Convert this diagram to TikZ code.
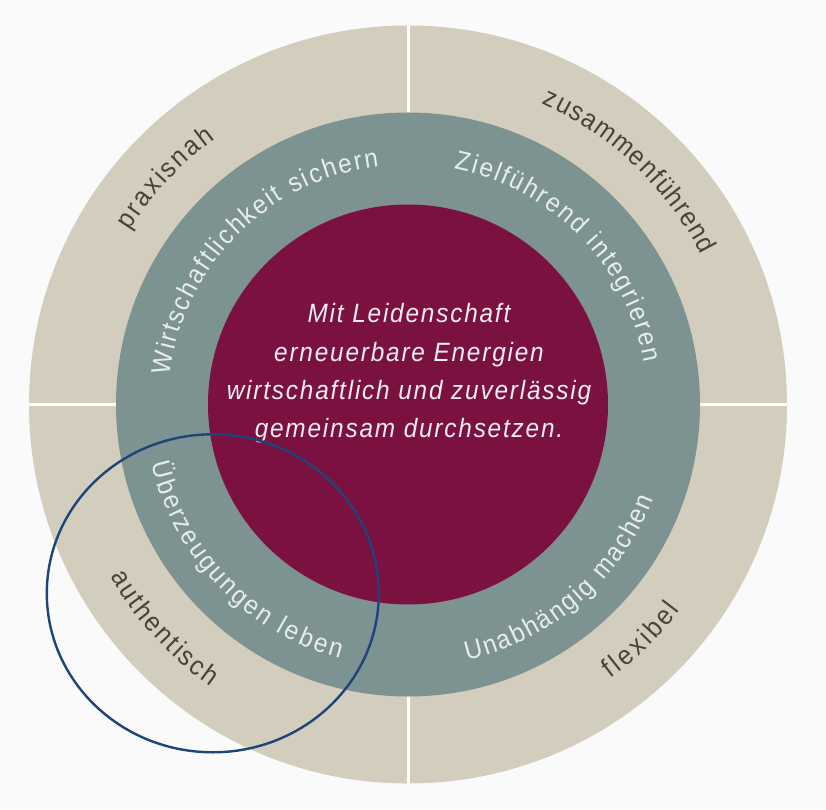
\documentclass[tikz,border=0pt]{standalone}
\usepackage{fontspec}
\setmainfont{Liberation Sans}
\newfontfamily\ringfont[FakeStretch=0.92]{Liberation Sans}
\newfontfamily\centerfont[FakeStretch=0.92,LetterSpace=6.8]{Liberation Sans}
\usetikzlibrary{decorations.text,calc}
\definecolor{bgc}{HTML}{FAFAFA}
\definecolor{beige}{HTML}{D3CDBD}
\definecolor{tealring}{HTML}{7D9392}
\definecolor{crimson}{HTML}{7B1140}
\definecolor{outertxt}{HTML}{4B413A}
\definecolor{midtxt}{HTML}{E8ECEC}
\definecolor{ctxt}{HTML}{F2EEF0}
\definecolor{ringblue}{HTML}{1E4577}
\newcommand\otf{\ringfont\fontsize{27}{30}\selectfont\color{outertxt}}
\newcommand\mtf{\ringfont\fontsize{26.5}{30}\selectfont\color{midtxt}}
\tikzset{
  ringtext/.style={decorate, decoration={text along path, text align={fit to path}, text={#1}}},
  coretext/.style={anchor=base, text=ctxt, inner sep=0pt, font=\centerfont\itshape\fontsize{26.5}{30}\selectfont},
  divider/.style={draw=white, line width=3pt},
}
\begin{document}
\begin{tikzpicture}[x=1pt,y=1pt]
\path[use as bounding box, fill=bgc] (0,0) rectangle (826,809);
\coordinate (C) at (408,404.5);
% outer ring
\fill[beige] (C) circle[radius=379pt];
\draw[divider] ($(C)+(0,-379)$) -- ($(C)+(0,379)$);
\draw[divider] ($(C)+(-379,0)$) -- ($(C)+(379,0)$);
% middle ring
\fill[tealring] (C) circle[radius=292pt];
% core
\fill[crimson] (C) circle[radius=200pt];
% outer texts
\path[ringtext={|\otf|praxisnah}] ($(C)+(148:328pt)$) arc[start angle=148, end angle=126, radius=328pt];
\path[ringtext={|\otf|zusammenführend}] ($(C)+(66:329pt)$) arc[start angle=66, end angle=27, radius=329pt];
\path[ringtext={|\otf|authentisch}] ($(C)+(210:344pt)$) arc[start angle=210, end angle=235, radius=344pt];
\path[ringtext={|\otf|flexibel}] ($(C)+(-53.5:341pt)$) arc[start angle=-53.5, end angle=-37, radius=341pt];
% middle texts
\path[ringtext={|\mtf|Wirtschaftlichkeit sichern}] ($(C)+(173:240pt)$) arc[start angle=173, end angle=97, radius=240pt];
\path[ringtext={|\mtf|Zielführend integrieren}] ($(C)+(79:240pt)$) arc[start angle=79, end angle=10, radius=240pt];
\path[ringtext={|\mtf|Überzeugungen leben}] ($(C)+(193:263pt)$) arc[start angle=193, end angle=255, radius=263pt];
\path[ringtext={|\mtf|Unabhängig machen}] ($(C)+(-77:263pt)$) arc[start angle=-77, end angle=-21, radius=263pt];
% core text
\node[coretext] (l1) at (409,486) {Mit Leidenschaft};
\node[coretext] (l2) at (409,447) {erneuerbare Energien};
\node[coretext] (l3) at (409,409) {wirtschaftlich und zuverlässig};
\node[coretext] (l4) at (409,371) {gemeinsam durchsetzen.};
% blue ring
\draw[ringblue, line width=2.4pt] (212.8,215.7) ellipse[x radius=166pt, y radius=159pt];
\end{tikzpicture}
\end{document}
